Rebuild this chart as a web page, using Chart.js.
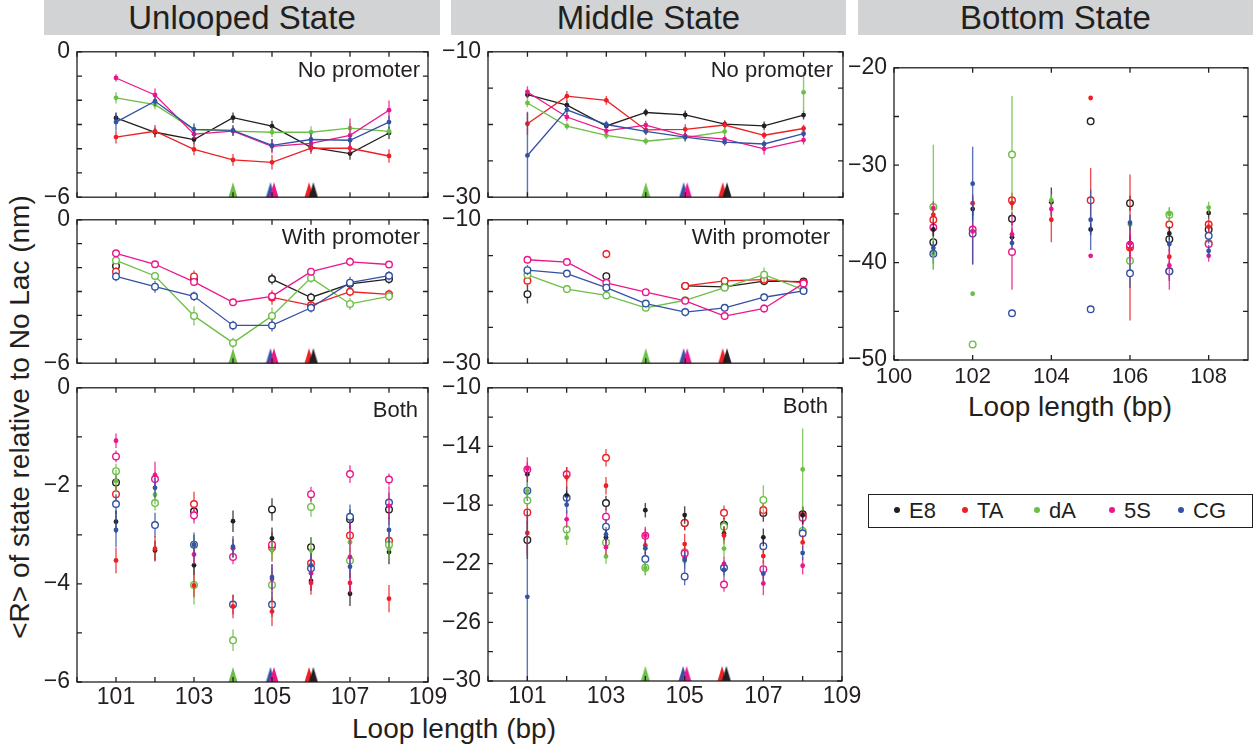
<!DOCTYPE html>
<html>
<head>
<meta charset="utf-8">
<script src="https://cdn.jsdelivr.net/npm/chart.js@4.4.1/dist/chart.umd.min.js"></script>
<style>
  body { margin: 0; background: #fff; font-family: "Liberation Sans", Arial, sans-serif; color: #231f20; }
  #fig { position: relative; width: 1253px; height: 750px; overflow: hidden; }
  #fig canvas { position: absolute; }
  .head { position: absolute; top: 0; height: 35px; line-height: 35px; background: #d1d3d4; font-size: 33px; text-align: center; }
  .title { position: absolute; font-size: 28px; white-space: nowrap; }
  #ytitle { position: absolute; left: 20px; top: 417px; font-size: 28px; white-space: nowrap; transform: translate(-50%, -50%) rotate(-90deg); }
  #legend { position: absolute; left: 868px; top: 494px; width: 383px; height: 32px; border: 1.3px solid #231f20; font-size: 22px; }
  #legend span { position: absolute; top: 3px; line-height: 26px; }
  #legend i { display: inline-block; width: 6px; height: 6px; border-radius: 50%; margin-right: 9px; vertical-align: middle; position: relative; top: -2px; }
</style>
</head>
<body>
<div id="fig">
  <div class="head" style="left:44px;width:396px">Unlooped State</div>
  <div class="head" style="left:451px;width:395px">Middle State</div>
  <div class="head" style="left:858px;width:395px">Bottom State</div>
  <div id="ytitle">&lt;R&gt; of state relative to No Lac (nm)</div>
  <div class="title" style="left:454px;top:713px;transform:translateX(-50%)">Loop length (bp)</div>
  <div class="title" style="left:1070px;top:391px;transform:translateX(-50%)">Loop length (bp)</div>
  <div id="legend"></div>
</div>
<script>
const xLoop = [101, 102, 103, 104, 105, 106, 107, 108];
const seriesNames = ['E8', 'TA', 'dA', '5S', 'CG'];
const seriesColors = ['#231f20', '#ed2024', '#6dbe46', '#ec168c', '#3452a4'];
// loop length of the minimum for each construct (arrowheads on the x axis)
const minLoop = [106.06, 105.95, 104.0, 105.05, 104.96];

// Unlooped state, no promoter
const unNoE8 = [-2.73, -3.32, -3.62, -2.72, -3.07, -3.94, -4.2, -3.35];
const unNoTA = [-3.52, -3.28, -4.03, -4.46, -4.56, -3.98, -3.98, -4.3];
const unNoDA = [-1.9, -2.18, -3.21, -3.27, -3.32, -3.32, -3.15, -3.28];
const unNo5S = [-1.08, -1.78, -3.4, -3.27, -3.9, -3.78, -3.45, -2.41];
const unNoCG = [-2.9, -2.04, -3.2, -3.24, -3.86, -3.62, -3.65, -2.9];
const unNoE8Err = [0.23, 0.2, 0.2, 0.22, 0.22, 0.2, 0.25, 0.25];
const unNoTAErr = [0.26, 0.26, 0.24, 0.24, 0.3, 0.24, 0.22, 0.28];
const unNoDAErr = [0.23, 0.2, 0.2, 0.2, 0.2, 0.25, 0.2, 0.2];
const unNo5SErr = [0.15, 0.27, 0.2, 0.18, 0.3, 0.35, 0.7, 0.4];
const unNoCGErr = [0.35, 0.2, 0.25, 0.22, 0.26, 0.25, 0.23, 0.26];

// Unlooped state, with promoter
const unWithE8 = [-1.93, null, -2.52, null, -2.48, -3.25, -2.68, -2.48];
const unWithTA = [-2.17, null, -2.37, null, -3.25, -3.58, -3.01, -3.12];
const unWithDA = [-1.7, -2.35, -4.02, -5.15, -4.02, -2.43, -3.52, -3.2];
const unWith5S = [-1.4, -1.86, -2.6, -3.45, -3.2, -2.17, -1.76, -1.87];
const unWithCG = [-2.37, -2.8, -3.2, -4.42, -4.42, -3.68, -2.63, -2.34];
const unWithE8Err = [0.15, 0, 0.18, 0, 0.23, 0.2, 0.2, 0.2];
const unWithTAErr = [0.2, 0, 0.25, 0, 0.3, 0.2, 0.2, 0.2];
const unWithDAErr = [0.15, 0.15, 0.4, 0.22, 0.35, 0.2, 0.25, 0.2];
const unWith5SErr = [0.12, 0.15, 0.17, 0.15, 0.18, 0.15, 0.18, 0.12];
const unWithCGErr = [0.2, 0.25, 0.2, 0.2, 0.25, 0.2, 0.25, 0.2];

// Middle state, no promoter
const midNoE8 = [-15.9, -17.34, -20.2, -18.35, -18.68, -19.94, -20.2, -18.7];
const midNoTA = [-19.9, -16.1, -16.68, -20.75, -20.66, -20.07, -21.48, -20.55];
const midNoDA = [-17.04, -20.22, -21.5, -22.3, -21.79, -20.97, null, -15.57];
const midNo5S = [-15.53, -18.97, -20.87, -20.08, -21.57, -22.02, -23.35, -22.14];
const midNoCG = [-24.26, -17.98, -20.0, -20.95, -21.73, -22.43, -22.68, -21.27];
const midNoE8Err = [0.5, 0.6, 0.5, 0.5, 0.6, 0.5, 0.6, 0.6];
const midNoTAErr = [1.5, 0.7, 0.6, 0.6, 0.7, 0.6, 0.5, 0.5];
const midNoDAErr = [0.6, 0.5, 0.5, 0.5, 0.5, 0.6, 0, 2.8];
const midNo5SErr = [0.8, 0.6, 0.5, 0.6, 0.5, 0.5, 0.8, 0.6];
const midNoCGErr = [6, 0.6, 0.5, 0.5, 0.6, 0.5, 0.5, 0.5];

// Middle state, with promoter
const midWithE8 = [-20.38, null, -17.86, null, -19.22, -19.35, -18.54, -18.62];
const midWithTA = [-18.5, null, -14.77, null, -19.22, -18.53, -18.34, -18.75];
const midWithDA = [-17.68, -19.66, -20.55, -22.27, -21.22, -19.47, -17.65, -19.76];
const midWith5S = [-15.57, -15.9, -18.79, -20.1, -21.3, -23.42, -22.37, -18.87];
const midWithCG = [-17.02, -17.5, -19.47, -21.68, -22.87, -22.28, -20.8, -19.92];
const midWithE8Err = [1.3, 0, 0.5, 0, 0.5, 0.5, 0.6, 0.5];
const midWithTAErr = [0.8, 0, 0.6, 0, 0.5, 0.5, 0.5, 0.5];
const midWithDAErr = [0.5, 0.5, 0.5, 0.5, 0.5, 0.5, 1.0, 0.7];
const midWith5SErr = [0.5, 0.5, 0.5, 0.5, 0.5, 0.5, 0.6, 0.5];
const midWithCGErr = [0.7, 0.5, 0.5, 0.5, 0.6, 0.5, 0.5, 0.5];

// Bottom state, filled and open markers
const btmFillE8 = [-36.6, -34.5, -37.4, -33.8, -36.6, -38.0, -37.0, -34.9];
const btmFillTA = [-35.1, -33.9, -33.9, -35.6, -23.1, -38.6, -39.4, -36.3];
const btmFillDA = [-39.1, -43.2, null, -33.6, null, -36.1, -35.0, -34.35];
const btmFill5S = [-34.4, -36.8, -37.1, -34.5, -39.3, -38.0, -40.3, -39.3];
const btmFillCG = [-38.5, -31.9, -38.0, null, -35.6, -35.9, -38.1, -38.8];
const btmOpenE8 = [-37.9, null, -35.5, null, -25.5, -33.9, -37.6, -36.6];
const btmOpenTA = [-35.6, null, -33.6, null, -33.6, -38.45, -36.1, -36.1];
const btmOpenDA = [-34.3, -48.4, -28.9, null, null, -39.8, -35.1, -38.0];
const btmOpen5S = [-36.4, -36.6, -38.9, null, null, -38.2, -40.9, -38.1];
const btmOpenCG = [-39.1, -37.0, -45.2, null, -44.8, -41.1, -40.9, -37.25];
const btmFillE8Err = [0.7, 0.7, 0.7, 1.5, 0.6, 0.8, 0.7, 0.6];
const btmFillTAErr = [0.7, 0.7, 0.7, 2.3, 0, 0.8, 0.7, 0.6];
const btmFillDAErr = [1.6, 0, 0, 0.6, 0, 0.8, 0.7, 0.6];
const btmFill5SErr = [0.7, 0.7, 0.7, 0.6, 0, 2.0, 2.5, 0.6];
const btmFillCGErr = [0.7, 3.8, 0.7, 0, 3.1, 0.8, 0.7, 0.6];
const btmOpenE8Err = [1.5, 0, 0.7, 0, 0, 0.8, 0.8, 0.6];
const btmOpenTAErr = [0.8, 0, 0.8, 0, 3.3, 7.5, 0.7, 0.6];
const btmOpenDAErr = [6.4, 0, 6.0, 0, 0, 0.8, 0.7, 0.6];
const btmOpen5SErr = [0.8, 3.6, 3.9, 0, 0, 1.5, 0.8, 0.6];
const btmOpenCGErr = [1.0, 3.2, 0, 0, 0, 1.5, 1.0, 0.8];

const unNo = [unNoE8, unNoTA, unNoDA, unNo5S, unNoCG];
const unNoErr = [unNoE8Err, unNoTAErr, unNoDAErr, unNo5SErr, unNoCGErr];
const unWith = [unWithE8, unWithTA, unWithDA, unWith5S, unWithCG];
const unWithErr = [unWithE8Err, unWithTAErr, unWithDAErr, unWith5SErr, unWithCGErr];
const midNo = [midNoE8, midNoTA, midNoDA, midNo5S, midNoCG];
const midNoErr = [midNoE8Err, midNoTAErr, midNoDAErr, midNo5SErr, midNoCGErr];
const midWith = [midWithE8, midWithTA, midWithDA, midWith5S, midWithCG];
const midWithErr = [midWithE8Err, midWithTAErr, midWithDAErr, midWith5SErr, midWithCGErr];
const btmFill = [btmFillE8, btmFillTA, btmFillDA, btmFill5S, btmFillCG];
const btmFillErr = [btmFillE8Err, btmFillTAErr, btmFillDAErr, btmFill5SErr, btmFillCGErr];
const btmOpen = [btmOpenE8, btmOpenTA, btmOpenDA, btmOpen5S, btmOpenCG];
const btmOpenErr = [btmOpenE8Err, btmOpenTAErr, btmOpenDAErr, btmOpen5SErr, btmOpenCGErr];

Chart.defaults.font.family = '"Liberation Sans", Arial, sans-serif';
Chart.defaults.color = '#231f20';

const fig = document.getElementById('fig');
const fmt = v => (v < 0 ? '\u2212' + Math.abs(v) : String(v));

function rgba(hex, a) {
  const n = parseInt(hex.slice(1), 16);
  return `rgba(${n >> 16},${(n >> 8) & 255},${n & 255},${a})`;
}

// tall narrow arrowhead whose base sits on the point
function arrowHead(color) {
  const c = document.createElement('canvas');
  c.width = 10; c.height = 32;
  const g = c.getContext('2d');
  g.fillStyle = color;
  g.beginPath();
  g.moveTo(5, 1); g.lineTo(9.5, 16); g.lineTo(0.5, 16);
  g.closePath(); g.fill();
  return c;
}

// vertical error bars, drawn just before each dataset's markers
const errorBars = {
  id: 'errorBars',
  beforeDatasetDraw(chart, args) {
    const ds = chart.data.datasets[args.index];
    if (!ds.errors) return;
    const { ctx, chartArea: a, scales: { x, y } } = chart;
    ctx.save();
    ctx.beginPath();
    ctx.rect(a.left, a.top, a.width, a.height);
    ctx.clip();
    ctx.strokeStyle = ds.errColor;
    ctx.lineWidth = 1.4;
    ds.data.forEach((p, i) => {
      const e = ds.errors[i];
      if (p.y == null || !e) return;
      const px = x.getPixelForValue(p.x);
      ctx.beginPath();
      ctx.moveTo(px, y.getPixelForValue(p.y - e));
      ctx.lineTo(px, y.getPixelForValue(p.y + e));
      ctx.stroke();
    });
    ctx.restore();
  }
};

// boxed axes with inward ticks on all sides, plus the panel caption
const frame = {
  id: 'frame',
  afterDraw(chart, args, opts) {
    const { ctx, chartArea: a, scales: { x, y } } = chart;
    ctx.save();
    ctx.strokeStyle = '#231f20';
    ctx.lineWidth = 1.3;
    ctx.strokeRect(a.left, a.top, a.width, a.height);
    ctx.beginPath();
    x.ticks.forEach(t => {
      const px = x.getPixelForValue(t.value);
      ctx.moveTo(px, a.bottom); ctx.lineTo(px, a.bottom - 5);
      ctx.moveTo(px, a.top); ctx.lineTo(px, a.top + 5);
    });
    y.ticks.forEach(t => {
      const py = y.getPixelForValue(t.value);
      ctx.moveTo(a.left, py); ctx.lineTo(a.left + 5, py);
      ctx.moveTo(a.right, py); ctx.lineTo(a.right - 5, py);
    });
    ctx.stroke();
    if (opts.text) {
      ctx.font = '22px "Liberation Sans", Arial, sans-serif';
      ctx.fillStyle = '#231f20';
      ctx.textAlign = 'right';
      ctx.textBaseline = 'alphabetic';
      ctx.fillText(opts.text, a.right - opts.dx, a.top + opts.dy);
    }
    ctx.restore();
  }
};

function seriesSet(vals, errs, k, open, line) {
  const c = seriesColors[k];
  return {
    label: seriesNames[k],
    data: xLoop.map((x, i) => ({ x, y: vals[i] })),
    errors: errs,
    errColor: rgba(c, 0.8),
    showLine: line,
    borderColor: c,
    borderWidth: 1.3,
    pointRadius: open ? 3.3 : 2.4,
    pointBorderWidth: open ? 1.4 : 0,
    pointBackgroundColor: open ? '#fff' : c,
    pointBorderColor: c,
    spanGaps: false
  };
}

function arrowSets(yBase) {
  // E8 over 5S over TA over CG over dA
  return [0, 3, 1, 4, 2].map(k => ({
    data: [{ x: minLoop[k], y: yBase }],
    pointStyle: arrowHead(seriesColors[k]),
    pointRadius: 5,
    showLine: false,
    clip: false
  }));
}

// first dataset ends up on top, so CG is listed first
const stack = [4, 3, 2, 1, 0];

function lineSets(vals, errs, open) {
  return stack.map(k => seriesSet(vals[k], errs[k], k, open, true));
}

function dotSets(fill, fillErr, open, openErr) {
  return stack.map(k => seriesSet(fill[k], fillErr[k], k, false, false))
    .concat(stack.map(k => seriesSet(open[k], openErr[k], k, true, false)));
}

function makePanel(p) {
  const padL = 70, padT = 16, padR = 26, padB = 16;
  const xH = p.xShown ? 30 : 0;
  const c = document.createElement('canvas');
  c.width = p.box.r - p.box.l + padL + padR;
  c.height = p.box.b - p.box.t + padT + xH + padB;
  c.style.left = (p.box.l - padL) + 'px';
  c.style.top = (p.box.t - padT) + 'px';
  fig.appendChild(c);
  new Chart(c, {
    type: 'line',
    data: { datasets: p.datasets },
    options: {
      responsive: false,
      animation: false,
      layout: { padding: { left: 0, top: padT, right: padR, bottom: padB } },
      plugins: {
        legend: { display: false },
        tooltip: { enabled: false },
        frame: { text: p.text, dx: p.dx, dy: p.dy }
      },
      scales: {
        x: {
          type: 'linear', min: 100, max: 109,
          afterFit: s => { s.height = xH; },
          grid: { display: false, drawTicks: false },
          border: { display: false },
          ticks: {
            display: !!p.xShown, stepSize: p.xStep, includeBounds: p.xStep === 1,
            autoSkip: false, maxRotation: 0,
            padding: p.xPad, font: { size: p.xFont },
            callback: v => (p.xShown && p.xShown.includes(v) ? String(v) : '')
          }
        },
        y: {
          type: 'linear', min: p.yMin, max: p.yMax,
          afterFit: s => { s.width = padL; },
          grid: { display: false, drawTicks: false },
          border: { display: false },
          ticks: {
            stepSize: p.yStep, autoSkip: false, padding: 7, font: { size: 23 },
            callback: v => (p.yShown.includes(v) ? fmt(v) : '')
          }
        }
      }
    },
    plugins: [errorBars, frame]
  });
}

const unShownTop = [0, -6];
const unShownBoth = [0, -2, -4, -6];
const midShownTop = [-10, -30];
const midShownBoth = [-10, -14, -18, -22, -26, -30];
const btmShown = [-20, -30, -40, -50];
const xShownOdd = [101, 103, 105, 107, 109];
const xShownEven = [100, 102, 104, 106, 108];

makePanel({ box: { l: 77, t: 47, r: 428, b: 202 }, yMin: -6, yMax: 0, yStep: 1, yShown: unShownTop, xStep: 1,
  text: 'No promoter', dx: 8, dy: 25, datasets: arrowSets(-6).concat(lineSets(unNo, unNoErr, false)) });
makePanel({ box: { l: 77, t: 215, r: 428, b: 368 }, yMin: -6, yMax: 0, yStep: 1, yShown: unShownTop, xStep: 1,
  text: 'With promoter', dx: 8, dy: 24, datasets: arrowSets(-6).concat(lineSets(unWith, unWithErr, true)) });
makePanel({ box: { l: 77, t: 383, r: 428, b: 682 }, yMin: -6, yMax: 0, yStep: 1, yShown: unShownBoth, xStep: 1,
  xShown: xShownOdd, xPad: 2, xFont: 23,
  text: 'Both', dx: 10, dy: 29, datasets: arrowSets(-6).concat(dotSets(unNo, unNoErr, unWith, unWithErr)) });

makePanel({ box: { l: 488, t: 47, r: 843, b: 202 }, yMin: -30, yMax: -10, yStep: 5, yShown: midShownTop, xStep: 1,
  text: 'No promoter', dx: 10, dy: 25, datasets: arrowSets(-30).concat(lineSets(midNo, midNoErr, false)) });
makePanel({ box: { l: 488, t: 215, r: 843, b: 368 }, yMin: -30, yMax: -10, yStep: 5, yShown: midShownTop, xStep: 1,
  text: 'With promoter', dx: 13, dy: 24, datasets: arrowSets(-30).concat(lineSets(midWith, midWithErr, true)) });
makePanel({ box: { l: 488, t: 383, r: 842, b: 681 }, yMin: -30, yMax: -10, yStep: 2, yShown: midShownBoth, xStep: 1,
  xShown: xShownOdd, xPad: 2, xFont: 23,
  text: 'Both', dx: 14, dy: 25, datasets: arrowSets(-30).concat(dotSets(midNo, midNoErr, midWith, midWithErr)) });

makePanel({ box: { l: 894, t: 63, r: 1248, b: 360 }, yMin: -50, yMax: -20, yStep: 5, yShown: btmShown, xStep: 2,
  xShown: xShownEven, xPad: 4, xFont: 22,
  datasets: dotSets(btmFill, btmFillErr, btmOpen, btmOpenErr) });

// legend
const legend = document.getElementById('legend');
const legendX = [25, 93, 165, 240, 309];
seriesNames.forEach((name, k) => {
  const s = document.createElement('span');
  s.style.left = legendX[k] + 'px';
  s.innerHTML = `<i style="background:${seriesColors[k]}"></i>${name}`;
  legend.appendChild(s);
});
</script>
</body>
</html>
